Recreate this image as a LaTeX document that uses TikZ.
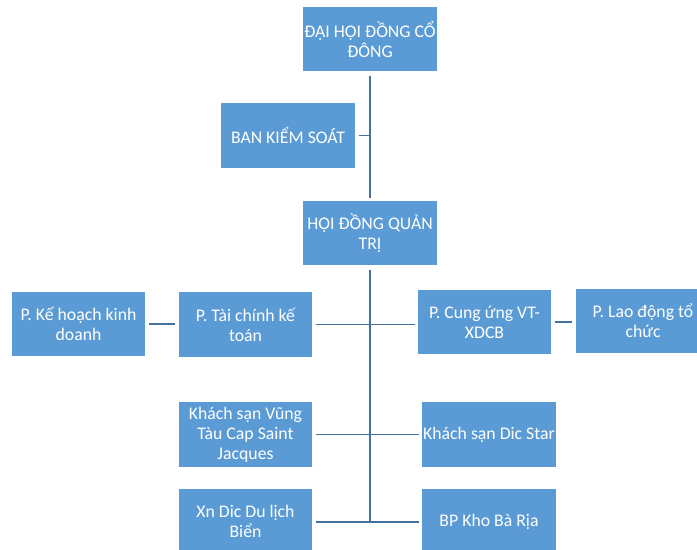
\documentclass[tikz,border=0pt]{standalone}
\usepackage{fontspec}
\setmainfont{Carlito}
\usepackage{tikz}

\definecolor{boxblue}{HTML}{5B9BD5}
\definecolor{lineblue}{HTML}{41719C}

\begin{document}
\begin{tikzpicture}[x=0.75pt,y=-0.75pt,
		box/.style={fill=boxblue,draw=none,text=white,minimum width=100pt,minimum height=48.5pt,
			align=center,inner sep=0pt,font=\fontsize{13.3}{15}\selectfont},
		link/.style={draw=lineblue,line width=0.9pt}]
			\useasboundingbox (0,0) rectangle (697,550);
			\begin{scope}
			\clip (0,0) rectangle (697,550);
			% top of the chart
			\node[box] (dhdcd) at (370,39) {ĐẠI HỘI ĐỒNG CỔ\\ĐÔNG};
			\node[box] (bks) at (288,135.5) {BAN KIỂM SOÁT};
			\node[box] (hdqt) at (370,233) {HỘI ĐỒNG QUẢN\\TRỊ};
			% phong ban
			\node[box] (khkd) at (78.5,324) {P. Kế hoạch kinh\\doanh};
			\node[box] (tckt) at (245.5,324.5) {P. Tài chính kế\\toán};
			\node[box] (cung) at (484.5,322) {P. Cung ứng VT-\\XDCB};
			\node[box] (ldtc) at (643,321) {P. Lao động tổ\\chức};
			% don vi truc thuoc
			\node[box] (ksvt) at (245.5,434.5) {Khách sạn Vũng\\Tàu Cap Saint\\Jacques};
			\node[box] (ksds) at (489,434.5) {Khách sạn Dic Star};
			\node[box] (xndl) at (245.5,521.5) {Xn Dic Du lịch\\Biển};
			\node[box] (bpkho) at (489,521.5) {BP Kho Bà Rịa};
			\end{scope}
			\coordinate (day) at (370,522);
			\draw[link] ([yshift=-3pt]dhdcd.south) -- ([yshift=2pt]hdqt.north);
			\draw[link] ([xshift=3pt]bks.east) -- (bks.east -| dhdcd.south);
			\draw[link] ([yshift=-3pt]hdqt.south) -- (day);
			\draw[link] ([xshift=3pt]khkd.east) -- ([xshift=-3pt]khkd.east -| tckt.west);
			\draw[link] ([xshift=3pt]tckt.east) -- ([xshift=-2pt]tckt.east -| cung.west);
			\draw[link] ([xshift=3pt]cung.east) -- ([xshift=-3pt]cung.east -| ldtc.west);
			\draw[link] ([xshift=3pt]ksvt.east) -- ([xshift=-2pt]ksvt.east -| ksds.west);
			\draw[link] ([xshift=3pt]xndl.east |- day) -- ([xshift=-2pt]bpkho.west |- day);
		\end{tikzpicture}
\end{document}
